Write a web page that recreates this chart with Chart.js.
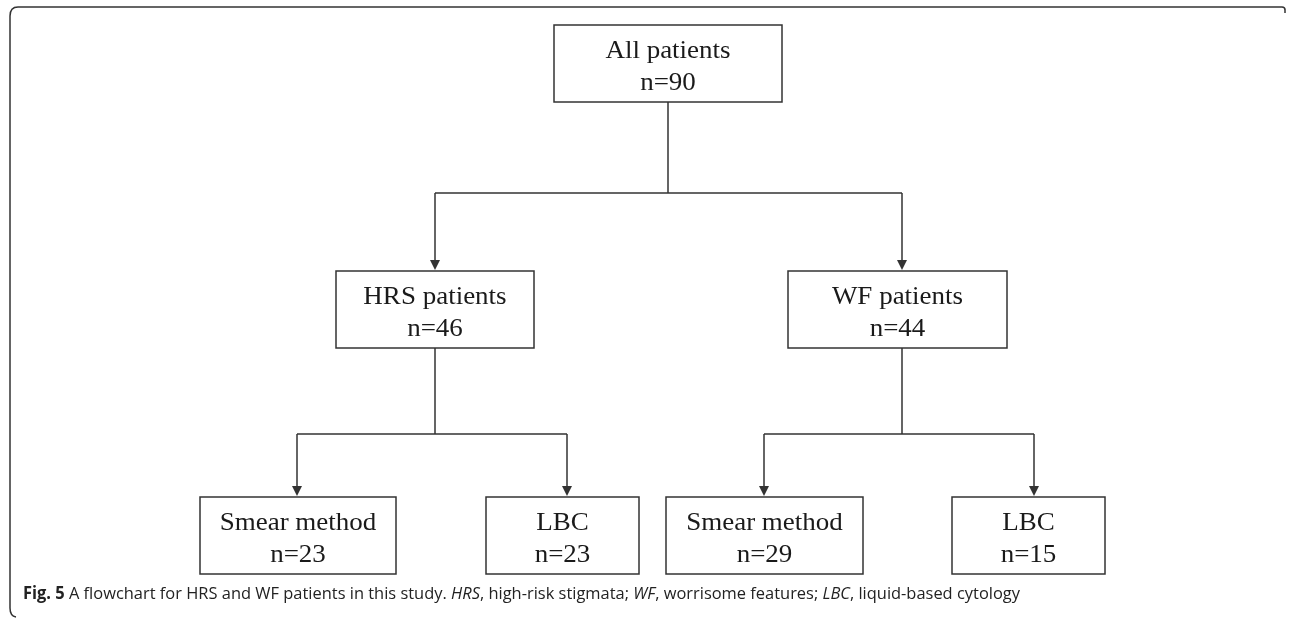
<!DOCTYPE html>
<html>
<head>
<meta charset="utf-8">
<style>
  html, body { margin: 0; padding: 0; background: #fff; }
  #wrap { width: 1290px; height: 620px; position: relative; }
</style>
<script src="https://cdn.jsdelivr.net/npm/chart.js@4.4.1/dist/chart.umd.min.js"></script>
</head>
<body>
<div id="wrap"><canvas id="flow" width="1290" height="620"></canvas></div>
<script>
// flowchart content
const nodeNames = ['All patients', 'HRS patients', 'WF patients', 'Smear method', 'LBC', 'Smear method', 'LBC'];
const nodeCounts = [90, 46, 44, 23, 23, 29, 15];
const nodeParent = [-1, 0, 0, 1, 1, 2, 2];
const nodeLevel = [0, 1, 1, 2, 2, 2, 2];

const captionParts = [
  ['Fig. 5', 'bold'],
  [' A flowchart for HRS and WF patients in this study. ', 'normal'],
  ['HRS', 'italic'],
  [', high-risk stigmata; ', 'normal'],
  ['WF', 'italic'],
  [', worrisome features; ', 'normal'],
  ['LBC', 'italic'],
  [', liquid-based cytology', 'normal']
];

// layout (in axis units, 0..1290 across, 0..620 down)
const boxLeft = [554, 336, 788, 200, 486, 666, 952];
const boxRight = [782, 534, 1007, 396, 639, 863, 1105];
const anchorX = [668, 435, 902, 297, 567, 764, 1034];
const levelTop = [25, 271, 497];
const boxHeight = 77;
const busY = [193, 434, 434];

const lineColor = '#333';
const serif = '"Liberation Serif"';
const sans = '"Open Sans"';

const drawText = (c, text, cx, baseY, stretch) => {
  c.save();
  c.translate(cx, baseY);
  c.scale(stretch, 1);
  c.textAlign = 'center';
  c.textBaseline = 'alphabetic';
  c.fillText(text, 0, 0);
  c.restore();
};

const flowPlugin = {
  id: 'flow',
  afterDatasetsDraw(chart) {
    const c = chart.ctx;
    const xs = chart.scales.x;
    const ys = chart.scales.y;
    const px = v => xs.getPixelForValue(v);
    const py = v => ys.getPixelForValue(v);

    c.save();
    c.strokeStyle = lineColor;
    c.fillStyle = lineColor;
    c.lineWidth = 1.5;

    // frame
    c.beginPath();
    c.moveTo(px(1285), py(13));
    c.lineTo(px(1285), py(9));
    c.arcTo(px(1285), py(7), px(1280), py(7), 3);
    c.lineTo(px(18), py(7));
    c.quadraticCurveTo(px(10), py(7), px(10), py(16));
    c.lineTo(px(10), py(608));
    c.quadraticCurveTo(px(10), py(616), px(16), py(617));
    c.stroke();

    // connectors
    nodeParent.forEach((p, i) => {
      if (p < 0) return;
      const kids = nodeParent.map((q, k) => q === p ? k : -1).filter(k => k >= 0);
      const bottom = levelTop[nodeLevel[p]] + boxHeight;
      const by = busY[p];
      c.lineWidth = 1.5;
      if (kids[0] === i) {
        c.beginPath();
        c.moveTo(px(anchorX[p]), py(bottom));
        c.lineTo(px(anchorX[p]), py(by));
        c.moveTo(px(anchorX[kids[0]]), py(by));
        c.lineTo(px(anchorX[kids[kids.length - 1]]), py(by));
        c.stroke();
      }
      const top = levelTop[nodeLevel[i]];
      const ax = px(anchorX[i]);
      c.beginPath();
      c.moveTo(ax, py(by));
      c.lineTo(ax, py(top) - 9);
      c.stroke();
      c.beginPath();
      c.moveTo(ax - 5, py(top) - 11);
      c.lineTo(ax + 5, py(top) - 11);
      c.lineTo(ax, py(top) - 1);
      c.closePath();
      c.fill();
    });

    // boxes
    c.lineWidth = 1.5;
    nodeNames.forEach((name, i) => {
      const top = levelTop[nodeLevel[i]];
      const x0 = px(boxLeft[i]);
      const x1 = px(boxRight[i]);
      const y0 = py(top);
      const y1 = py(top + boxHeight);
      c.fillStyle = '#fff';
      c.fillRect(x0, y0, x1 - x0, y1 - y0);
      c.strokeRect(x0, y0, x1 - x0, y1 - y0);
      const cx = (x0 + x1) / 2;
      c.fillStyle = '#1a1a1a';
      c.font = '25px ' + serif + ', serif';
      drawText(c, name, cx, py(top + 33), 1.08);
      drawText(c, 'n=' + nodeCounts[i], cx, py(top + 65), 1.08);
    });

    // caption
    const fonts = {
      bold: 'bold 17px ' + sans + ', sans-serif',
      normal: '17px ' + sans + ', sans-serif',
      italic: 'italic 17px ' + sans + ', sans-serif'
    };
    let total = 0;
    captionParts.forEach(([t, f]) => { c.font = fonts[f]; total += c.measureText(t).width; });
    const startX = px(23);
    const stretch = (px(1020) - startX) / total;
    c.fillStyle = '#222';
    c.textAlign = 'left';
    c.textBaseline = 'alphabetic';
    let cur = 0;
    captionParts.forEach(([t, f]) => {
      c.font = fonts[f];
      c.save();
      c.translate(startX + cur * stretch, py(599));
      c.scale(stretch, 1);
      c.fillText(t, 0, 0);
      c.restore();
      cur += c.measureText(t).width;
    });
    c.restore();
  }
};

const buildChart = () => {
  const ctx = document.getElementById('flow').getContext('2d');
  new Chart(ctx, {
    type: 'scatter',
    data: {
      datasets: [{
        data: nodeNames.map((n, i) => ({ x: anchorX[i], y: levelTop[nodeLevel[i]] + boxHeight / 2 })),
        pointRadius: 0,
        pointHoverRadius: 0
      }]
    },
    options: {
      responsive: false,
      animation: false,
      layout: { padding: 0 },
      plugins: { legend: { display: false }, tooltip: { enabled: false } },
      scales: {
        x: { type: 'linear', min: 0, max: 1290, display: false },
        y: { type: 'linear', min: 0, max: 620, reverse: true, display: false }
      }
    },
    plugins: [flowPlugin]
  });
};

Promise.all([
  document.fonts.load('25px ' + serif),
  document.fonts.load('17px ' + sans),
  document.fonts.load('bold 17px ' + sans),
  document.fonts.load('italic 17px ' + sans)
]).then(buildChart, buildChart);
</script>
</body>
</html>
